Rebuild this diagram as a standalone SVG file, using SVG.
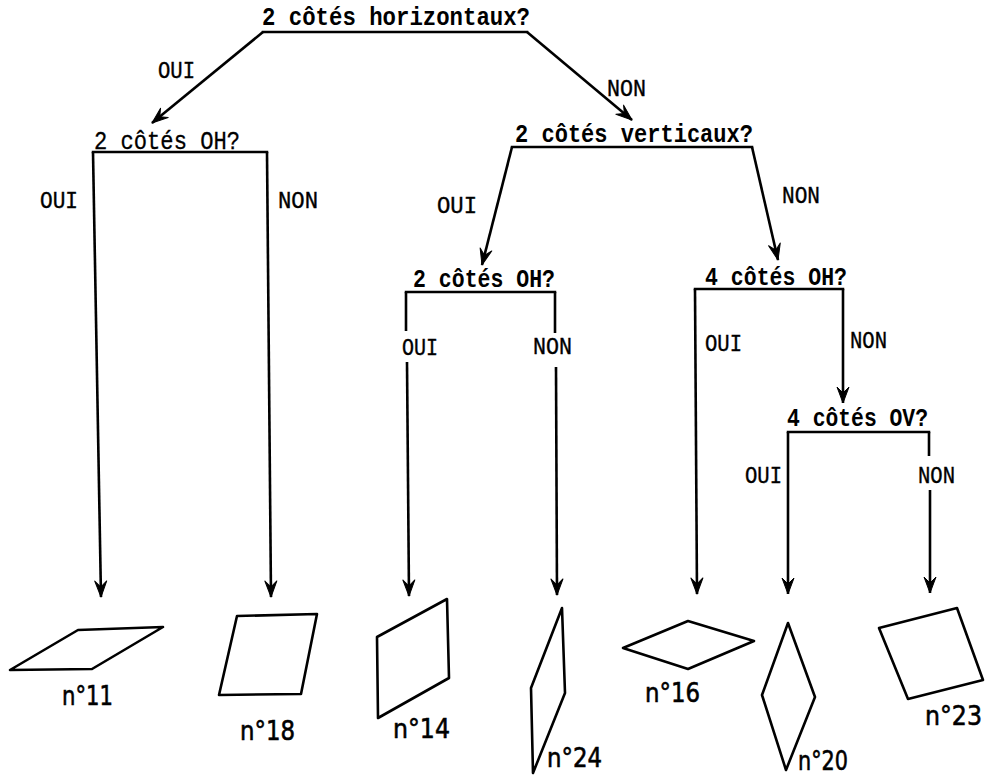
<svg xmlns="http://www.w3.org/2000/svg" width="986" height="778" viewBox="0 0 986 778">
<style>
  .q { font-family: "Liberation Mono", "DejaVu Sans Mono", monospace; font-size: 25px; fill: #000; font-weight: bold; }
  .ql { font-family: "Liberation Mono", "DejaVu Sans Mono", monospace; font-size: 25px; fill: #000; stroke: #000; stroke-width: 0.3; }
  .lbl { font-family: "Liberation Mono", "DejaVu Sans Mono", monospace; font-size: 24px; fill: #000; stroke: #000; stroke-width: 0.4; }
  .bar { stroke: #000; stroke-width: 2.5; fill: none; stroke-linecap: square; }
  .edge { stroke: #000; stroke-width: 2.6; fill: none; }
  .shape { stroke: #000; stroke-width: 2.6; fill: none; stroke-linejoin: round; }
  .num { font-family: "DejaVu Sans", "Liberation Sans", sans-serif; font-size: 26px; fill: #000; stroke: #000; stroke-width: 0.6; }
</style>
<defs>
  <marker id="ah" markerUnits="userSpaceOnUse" viewBox="-18 -8 20 16" markerWidth="20" markerHeight="16" refX="0" refY="0" orient="auto" overflow="visible">
    <path d="M0,0 L-16,-6 L-10,0 L-16,6 Z" fill="#000" stroke="#000" stroke-width="1" stroke-linejoin="round"/>
  </marker>
</defs>
<rect width="986" height="778" fill="#fff"/>

<g id="connectors">
  <path class="edge" d="M263,32 L152,123" marker-end="url(#ah)"/>
  <path class="edge" d="M527,32 L632,120" marker-end="url(#ah)"/>
  <path class="edge" d="M93,152 L101,597" marker-end="url(#ah)"/>
  <path class="edge" d="M267,152 L271,597" marker-end="url(#ah)"/>
  <path class="edge" d="M512,147 L482,265" marker-end="url(#ah)"/>
  <path class="edge" d="M752,147 L778,260" marker-end="url(#ah)"/>
  <path class="edge" d="M406,292 L406,331"/>
  <path class="edge" d="M407,362 L409,596" marker-end="url(#ah)"/>
  <path class="edge" d="M555,292 L555,333"/>
  <path class="edge" d="M556,367 L557,595" marker-end="url(#ah)"/>
  <path class="edge" d="M695,289 L697,594" marker-end="url(#ah)"/>
  <path class="edge" d="M843,289 L843,403" marker-end="url(#ah)"/>
  <path class="edge" d="M788,432 L788,594" marker-end="url(#ah)"/>
  <path class="edge" d="M929,432 L929,456"/>
  <path class="edge" d="M930,490 L930,593" marker-end="url(#ah)"/>
  <text class="lbl" x="158" y="78" textLength="37" lengthAdjust="spacingAndGlyphs">OUI</text>
  <text class="lbl" x="607" y="96" textLength="39" lengthAdjust="spacingAndGlyphs">NON</text>
  <text class="lbl" x="40" y="208" textLength="38" lengthAdjust="spacingAndGlyphs">OUI</text>
  <text class="lbl" x="278" y="208" textLength="40" lengthAdjust="spacingAndGlyphs">NON</text>
  <text class="lbl" x="437" y="213" textLength="40" lengthAdjust="spacingAndGlyphs">OUI</text>
  <text class="lbl" x="782" y="203" textLength="38" lengthAdjust="spacingAndGlyphs">NON</text>
  <text class="lbl" x="402" y="355" textLength="36" lengthAdjust="spacingAndGlyphs">OUI</text>
  <text class="lbl" x="533" y="354" textLength="39" lengthAdjust="spacingAndGlyphs">NON</text>
  <text class="lbl" x="705" y="351" textLength="37" lengthAdjust="spacingAndGlyphs">OUI</text>
  <text class="lbl" x="850" y="348" textLength="37" lengthAdjust="spacingAndGlyphs">NON</text>
  <text class="lbl" x="745" y="483" textLength="37" lengthAdjust="spacingAndGlyphs">OUI</text>
  <text class="lbl" x="918" y="483" textLength="37" lengthAdjust="spacingAndGlyphs">NON</text>
</g>

<g id="q-horizontaux">
  <text class="q" x="262" y="25" textLength="268" lengthAdjust="spacingAndGlyphs">2 côtés horizontaux?</text>
  <line class="bar" x1="263" y1="32" x2="527" y2="32"/>
</g>
<g id="q-oh-left">
  <text class="ql" x="94" y="149" textLength="146" lengthAdjust="spacingAndGlyphs">2 côtés OH?</text>
  <line class="bar" x1="93" y1="152" x2="267" y2="152"/>
</g>
<g id="q-verticaux">
  <text class="q" x="515" y="142" textLength="238" lengthAdjust="spacingAndGlyphs">2 côtés verticaux?</text>
  <line class="bar" x1="512" y1="147" x2="752" y2="147"/>
</g>
<g id="q-oh-mid">
  <text class="q" x="413" y="287" textLength="142" lengthAdjust="spacingAndGlyphs">2 côtés OH?</text>
  <line class="bar" x1="406" y1="292" x2="555" y2="292"/>
</g>
<g id="q-4oh">
  <text class="q" x="705" y="285" textLength="142" lengthAdjust="spacingAndGlyphs">4 côtés OH?</text>
  <line class="bar" x1="695" y1="289" x2="843" y2="289"/>
</g>
<g id="q-4ov">
  <text class="q" x="787" y="426" textLength="141" lengthAdjust="spacingAndGlyphs">4 côtés OV?</text>
  <line class="bar" x1="788" y1="432" x2="929" y2="432"/>
</g>

<g id="n11">
  <polygon class="shape" points="10,670 78,630 163,627 92,669"/>
  <text class="num" x="62" y="705" textLength="51" lengthAdjust="spacingAndGlyphs">n°11</text>
</g>
<g id="n18">
  <polygon class="shape" points="237,616 317,614 301,694 219,695"/>
  <text class="num" x="240" y="740" textLength="55" lengthAdjust="spacingAndGlyphs">n°18</text>
</g>
<g id="n14">
  <polygon class="shape" points="377,637 447,599 449,678 378,718"/>
  <text class="num" x="393" y="738" textLength="57" lengthAdjust="spacingAndGlyphs">n°14</text>
</g>
<g id="n24">
  <polygon class="shape" points="562,608 565,693 533,773 531,688"/>
  <text class="num" x="547" y="767" textLength="55" lengthAdjust="spacingAndGlyphs">n°24</text>
</g>
<g id="n16">
  <polygon class="shape" points="623,648 688,621 754,641 688,669"/>
  <text class="num" x="645" y="702" textLength="55" lengthAdjust="spacingAndGlyphs">n°16</text>
</g>
<g id="n20">
  <polygon class="shape" points="788,623 815,697 786,770 762,695"/>
  <text class="num" x="798" y="770" textLength="50" lengthAdjust="spacingAndGlyphs">n°20</text>
</g>
<g id="n23">
  <polygon class="shape" points="879,628 957,608 983,680 908,699"/>
  <text class="num" x="925" y="725" textLength="57" lengthAdjust="spacingAndGlyphs">n°23</text>
</g>
</svg>
